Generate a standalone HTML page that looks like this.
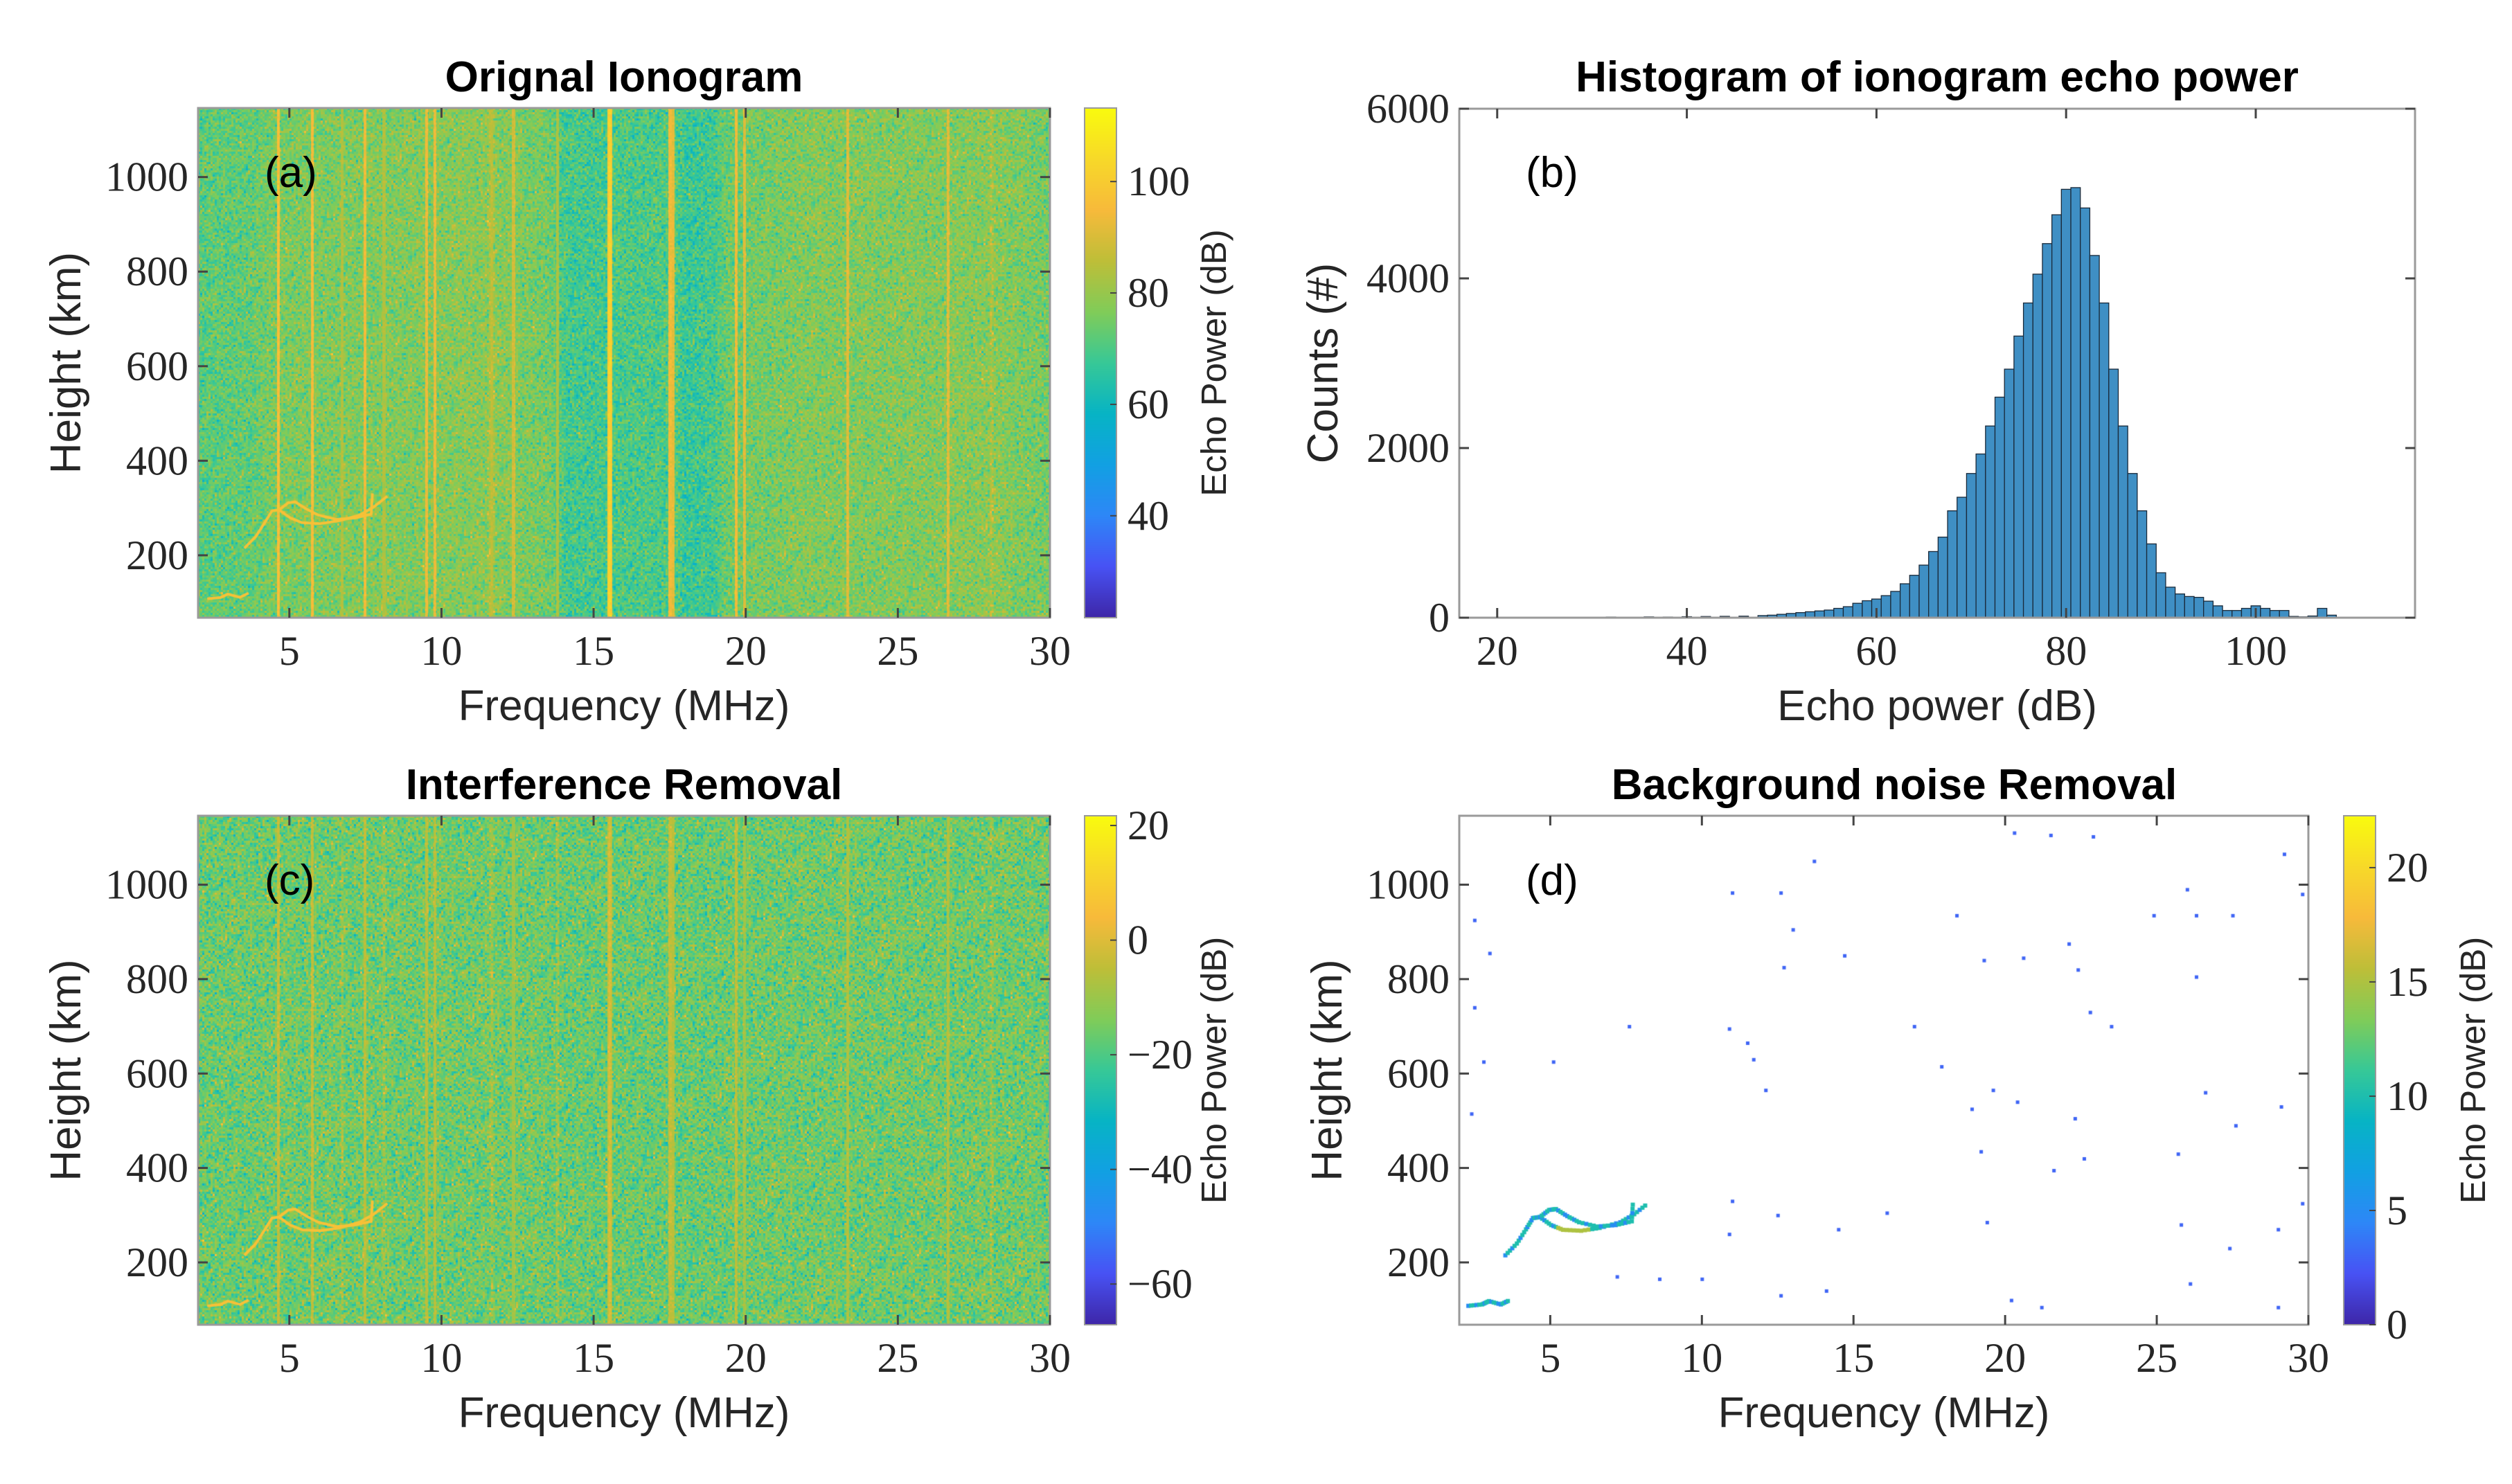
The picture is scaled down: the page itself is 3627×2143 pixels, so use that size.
<!DOCTYPE html>
<html><head><meta charset="utf-8">
<style>
html,body{margin:0;padding:0;background:#fff;}
#wrap{position:relative;width:3627px;height:2143px;overflow:hidden;background:#fff;}
canvas{position:absolute;}
svg{position:absolute;left:0;top:0;}
.tk{font-family:"Liberation Serif",serif;font-size:60px;fill:#262626;}
.ax{font-family:"Liberation Sans",sans-serif;font-size:62px;fill:#262626;}
.cbl{font-family:"Liberation Sans",sans-serif;font-size:51px;fill:#262626;}
.ttl{font-family:"Liberation Sans",sans-serif;font-size:62px;font-weight:bold;fill:#000;}
.pl{font-family:"Liberation Sans",sans-serif;font-size:62px;fill:#000;}
</style></head>
<body>
<div id="wrap">
<canvas id="cA" style="left:286px;top:156px" width="1230" height="736"></canvas>
<canvas id="cC" style="left:286px;top:1178px" width="1230" height="735"></canvas>
<canvas id="cD" style="left:2107px;top:1178px" width="1226" height="735"></canvas>
<canvas id="cbA" style="left:1566px;top:156px" width="46" height="736"></canvas>
<canvas id="cbC" style="left:1566px;top:1178px" width="46" height="735"></canvas>
<canvas id="cbD" style="left:3384px;top:1178px" width="46" height="735"></canvas>
<svg id="ov" width="3627" height="2143" xmlns="http://www.w3.org/2000/svg"></svg>
</div>
<script>
// ---------- data ----------
const bgFreq = [2, 3.8, 4.5, 9, 11.6, 13.5, 14.1, 15.4, 15.75, 17.35, 17.7, 18.0, 19.0, 19.3, 22, 26, 28, 30];
const bgMean = [72, 73, 76, 77, 78, 75, 69, 69, 70, 70, 72, 67, 69, 74, 77, 77, 78, 75];
const lineFreqs = [4.63, 5.75, 6.73, 7.48, 8.1, 9.5, 9.77, 11.64, 12.36, 13.8, 15.52, 17.5, 17.6, 19.68, 19.95, 23.34, 26.64, 28.07];
const lineLevelsA = [96, 95, 84, 94, 84, 93, 93, 87, 89, 83, 103, 94, 92, 94, 91, 91, 91, 84];
const lineWidths = [1, 1, 1, 1, 1, 1, 1, 3, 1, 1, 1.5, 1, 1, 1, 1, 1, 1, 3];
const bgLevelC = -16;
const lineLevelsC = [-4, -4, -11, -5, -11, -6, -6, -9, -9, -11, 0, -4, -6, -5, -9, -7, -7, -10];
const traceF1 = [3.52, 3.9, 4.2, 4.43, 4.66, 5.03, 5.42, 6.02, 6.63, 7.31, 7.77, 8.22];
const traceH1 = [215, 240, 270, 294, 296, 279, 269, 267, 273, 285, 302, 325];
const traceF2 = [4.66, 4.96, 5.19, 5.56, 5.95, 6.55, 7.16, 7.69, 7.73];
const traceH2 = [296, 311, 313, 298, 285, 276, 279, 287, 331];
const traceF3 = [2.3, 2.75, 2.98, 3.37, 3.66];
const traceH3 = [108, 111, 118, 111, 120];
const dotF = [11,12.6,13,13.7,20.3,21.5,22.9,26,29.2,29.8,18.4,24.9,26.3,27.5,14.7,19.3,20.6,22.1,22.8,26.3,12.7,7.6,10.9,11.7,11.5,12.1,23.5,17.9,19.6,18.9,20.4,26.6,29.1,19.2,22.6,25.7,27.6,29.8,11,10.9,12.5,14.5,16.1,19.4,25.8,27.4,29,7.2,8.6,10,14.1,12.6,20.2,21.2,29,26.1,2.8,2.5,3,2.5,5.1,2.4,21.6,22.3,17,22.4];
const dotH = [983,983,905,1050,1110,1105,1102,990,1065,980,935,935,935,935,850,840,845,875,730,805,825,700,695,630,665,565,700,615,565,525,540,560,530,435,420,430,490,325,330,260,300,270,305,285,280,230,270,170,165,165,140,130,120,105,105,155,625,740,855,925,625,515,395,505,700,820];
const histBins = [20,22,25,30,32,34,36,38,40,42,44,46,48,49,50,51,52,53,54,55,56,57,58,59,60,61,62,63,64,65,66,67,68,69,70,71,72,73,74,75,76,77,78,79,80,81,82,83,84,85,86,87,88,89,90,91,92,93,94,95,96,97,98,99,100,101,102,103,104,105,106,107,108,109,110,112];
const histCounts = [4,3,3,6,8,6,10,8,12,14,16,18,25,30,40,50,60,70,80,90,110,130,170,200,220,260,310,400,500,620,780,950,1260,1420,1700,1930,2260,2600,2930,3320,3710,4050,4410,4750,5050,5070,4830,4270,3710,2930,2260,1700,1260,870,530,360,280,250,240,195,140,85,85,110,140,110,85,85,15,10,20,110,30,5,3,3];
const ticksFreq = [5,10,15,20,25,30];
const ticksH = [200,400,600,800,1000];
const ticksHistX = [20,40,60,80,100];
const ticksHistY = [0,2000,4000,6000];
const cbTicksA = [40,60,80,100];
const cbTicksC = [-60,-40,-20,0,20];
const cbTicksD = [0,5,10,15,20];

// ---------- parula ----------
const PS=[[0.2422,0.1504,0.6603],[0.2810,0.3228,0.9579],[0.1786,0.5289,0.9682],[0.0689,0.6279,0.8890],[0.0267,0.7047,0.7713],[0.2161,0.7843,0.5923],[0.5044,0.7993,0.3480],[0.7450,0.7450,0.2200],[0.9690,0.7290,0.2300],[0.9700,0.8500,0.1600],[0.9763,0.9831,0.0538]];
function parula(t){t=Math.max(0,Math.min(1,t));const p=t*10,i=Math.min(9,Math.floor(p)),f=p-i;const a=PS[i],b=PS[i+1];return [0,1,2].map(k=>Math.round(255*(a[k]+(b[k]-a[k])*f)));}
let seed=12345;function rnd(){seed=(seed*1103515245+12345)%2147483648;return seed/2147483648;}
function gauss(){let u=rnd()||1e-9,v=rnd();return Math.sqrt(-2*Math.log(u))*Math.cos(2*Math.PI*v);}
function interp(xs,ys,x){if(x<=xs[0])return ys[0];for(let i=1;i<xs.length;i++){if(x<=xs[i]){const f=(x-xs[i-1])/(xs[i]-xs[i-1]);return ys[i-1]+(ys[i]-ys[i-1])*f;}}return ys[ys.length-1];}

const FMIN=2,FMAX=30,HMIN=68,HMAX=1146;
function fx(f,L,W){return L+(f-FMIN)/(FMAX-FMIN)*W;}
function hy(h,T,H){return T+(HMAX-h)/(HMAX-HMIN)*H;}

function drawIonogram(id,bgFn,levels,vmin,vmax,sd,traceVal){
  const c=document.getElementById(id),ctx=c.getContext('2d'),W=c.width,H=c.height;
  const img=ctx.createImageData(W,H);const cs=3;
  const colBase=[],colBg=[];
  for(let x=0;x<W;x++){const f=FMIN+(x+0.5)/W*(FMAX-FMIN);const b=bgFn(f);let v=b;
    for(let i=0;i<lineFreqs.length;i++){const px=(lineFreqs[i]-FMIN)/(FMAX-FMIN)*W;const d=Math.abs(x-px);const w=2.2*lineWidths[i];if(d<w){v=Math.max(v,levels[i]-(lineWidths[i]>1?d*1.5:0));}}
    colBase.push(v);colBg.push(b);}
  for(let cy=0;cy<H;cy+=cs){for(let cx=0;cx<W;cx+=cs){const n=gauss()*sd;
    for(let yy=cy;yy<Math.min(H,cy+cs);yy++)for(let xx=cx;xx<Math.min(W,cx+cs);xx++){
      const base=colBase[xx];const isLine=base>colBg[xx]+6;
      const v=base+(isLine?n*0.3:n);const col=parula((v-vmin)/(vmax-vmin));const o=(yy*W+xx)*4;
      img.data[o]=col[0];img.data[o+1]=col[1];img.data[o+2]=col[2];img.data[o+3]=255;}}}
  ctx.putImageData(img,0,0);
  const tc=parula((traceVal-vmin)/(vmax-vmin));ctx.strokeStyle='rgb('+tc.join(',')+')';ctx.lineWidth=4;ctx.lineJoin='round';
  [[traceF1,traceH1],[traceF2,traceH2],[traceF3,traceH3]].forEach(([F,Hh])=>{ctx.beginPath();F.forEach((f,i)=>{const X=fx(f,0,W),Y=hy(Hh[i],0,H);i?ctx.lineTo(X,Y):ctx.moveTo(X,Y);});ctx.stroke();});
}
drawIonogram('cA',f=>interp(bgFreq,bgMean,f),lineLevelsA,21.7,113.2,5,97);
drawIonogram('cC',f=>bgLevelC+(interp(bgFreq,bgMean,f)-75)*0.1,lineLevelsC,-67.1,21.7,6,6);

// panel d
(function(){const c=document.getElementById('cD'),ctx=c.getContext('2d'),W=c.width,H=c.height;
  ctx.fillStyle='#fff';ctx.fillRect(0,0,W,H);
  const cd=v=>'rgb('+parula(v/22.27).join(',')+')';
  [[traceF1,traceH1],[traceF2,traceH2],[traceF3,traceH3]].forEach(([F,Hh],k)=>{
    for(let i=0;i<F.length-1;i++){for(let s=0;s<5;s++){const t=s/5;const f=F[i]+(F[i+1]-F[i])*t,h=Hh[i]+(Hh[i+1]-Hh[i])*t;
      const v=(k==0&&f>5.2&&f<6.3)?15:((i+s)%3==0?5:10);ctx.fillStyle=cd(v);ctx.fillRect(fx(f,0,W)-3,hy(h,0,H)-3,6,6);}}});
  ctx.fillStyle=cd(3);dotF.forEach((f,i)=>{ctx.fillRect(fx(f,0,W)-2,hy(dotH[i],0,H)-2,5,5);});
})();

function drawCb(id){const c=document.getElementById(id),ctx=c.getContext('2d');for(let y=0;y<c.height;y++){ctx.fillStyle='rgb('+parula(1-y/(c.height-1)).join(',')+')';ctx.fillRect(0,y,c.width,1);}}
drawCb('cbA');drawCb('cbC');drawCb('cbD');

// ---------- overlay ----------
const NS='http://www.w3.org/2000/svg',ov=document.getElementById('ov');
function el(tag,attrs,txt){const e=document.createElementNS(NS,tag);for(const k in attrs)e.setAttribute(k,attrs[k]);if(txt!==undefined)e.textContent=txt;ov.appendChild(e);return e;}
function frame(L,T,W,H,name){const r=el('rect',{x:L,y:T,width:W,height:H,fill:'none',stroke:'#9a9a9a','stroke-width':3});}
function ionoAxes(L,T,W,H,p){
  frame(L,T,W,H,'plot-frame-'+p);
  ticksFreq.forEach(f=>{const x=fx(f,L,W);el('line',{x1:x,y1:T+H,x2:x,y2:T+H-14,stroke:'#444','stroke-width':3});el('line',{x1:x,y1:T,x2:x,y2:T+14,stroke:'#444','stroke-width':3});
    const t=el('text',{x:x,y:T+H+68,'text-anchor':'middle',class:'tk'},String(f));});
  ticksH.forEach(h=>{const y=hy(h,T,H);el('line',{x1:L,y1:y,x2:L+14,y2:y,stroke:'#444','stroke-width':3});el('line',{x1:L+W,y1:y,x2:L+W-14,y2:y,stroke:'#444','stroke-width':3});
    const t=el('text',{x:L-14,y:y+20,'text-anchor':'end',class:'tk'},String(h));});
  const xl=el('text',{x:L+W/2,y:T+H+148,'text-anchor':'middle',class:'ax'},'Frequency (MHz)');
  const yl=el('text',{x:0,y:0,'text-anchor':'middle',class:'ax',transform:'translate('+(L-170)+','+(T+H/2)+') rotate(-90)'},'Height (km)');
}
function cbAxes(L,T,W,H,vmin,vmax,ticks,name){
  const r=el('rect',{x:L,y:T,width:W,height:H,fill:'none',stroke:'#9a9a9a','stroke-width':2});
  ticks.forEach(v=>{const y=T+(vmax-v)/(vmax-vmin)*H;el('line',{x1:L+W,y1:y,x2:L+W-9,y2:y,stroke:'#444','stroke-width':2});
    const t=el('text',{x:L+W+16,y:y+20,class:'tk'},v<0?'\u2212'+Math.abs(v):String(v));});
  const lb=el('text',{x:0,y:0,'text-anchor':'middle',class:'cbl',transform:'translate('+(L+W+158)+','+(T+H/2)+') rotate(-90)'},'Echo Power (dB)');
}
function title(x,y,s,n){const t=el('text',{x:x,y:y,'text-anchor':'middle',class:'ttl'},s);}
function plabel(x,y,s){const t=el('text',{x:x,y:y,class:'pl'},s);}

ionoAxes(286,156,1230,736,'a');cbAxes(1566,156,46,736,21.7,113.2,cbTicksA,'colorbar-a');
title(901,132,'Orignal Ionogram','title-a');plabel(382,270,'(a)');
ionoAxes(286,1178,1230,735,'c');cbAxes(1566,1178,46,735,-67.1,21.7,cbTicksC,'colorbar-c');
title(901,1154,'Interference Removal','title-c');plabel(382,1292,'(c)');
ionoAxes(2107,1178,1226,735,'d');cbAxes(3384,1178,46,735,0,22.27,cbTicksD,'colorbar-d');
title(2735,1154,'Background noise Removal','title-d');plabel(2203,1292,'(d)');

// histogram
(function(){const L=2107,T=157,W=1380,H=735,XMIN=16,XMAX=116.8,YMAX=6000;
  const X=v=>L+(v-XMIN)/(XMAX-XMIN)*W,Y=c=>T+H-c/YMAX*H;
  histBins.forEach((b,i)=>{const c=histCounts[i];const r=el('rect',{x:X(b-0.5),y:Y(c),width:X(b+0.5)-X(b-0.5),height:T+H-Y(c),fill:'#3f8fc4',stroke:'#1a2a3a','stroke-width':1.3});
    });
  frame(L,T,W,H,'plot-frame-b');
  ticksHistX.forEach(v=>{const x=X(v);el('line',{x1:x,y1:T+H,x2:x,y2:T+H-14,stroke:'#444','stroke-width':3});el('line',{x1:x,y1:T,x2:x,y2:T+14,stroke:'#444','stroke-width':3});
    const t=el('text',{x:x,y:T+H+68,'text-anchor':'middle',class:'tk'},String(v));});
  ticksHistY.forEach(v=>{const y=Y(v);el('line',{x1:L,y1:y,x2:L+14,y2:y,stroke:'#444','stroke-width':3});el('line',{x1:L+W,y1:y,x2:L+W-14,y2:y,stroke:'#444','stroke-width':3});
    const t=el('text',{x:L-14,y:y+20,'text-anchor':'end',class:'tk'},String(v));});
  const xl=el('text',{x:L+W/2,y:T+H+148,'text-anchor':'middle',class:'ax'},'Echo power (dB)');
  const yl=el('text',{x:0,y:0,'text-anchor':'middle',class:'ax',transform:'translate('+(L-176)+','+(T+H/2)+') rotate(-90)'},'Counts (#)');
  title(L+W/2,132,'Histogram of ionogram echo power','title-b');plabel(2203,270,'(b)');
})();
</script>
</body></html>
